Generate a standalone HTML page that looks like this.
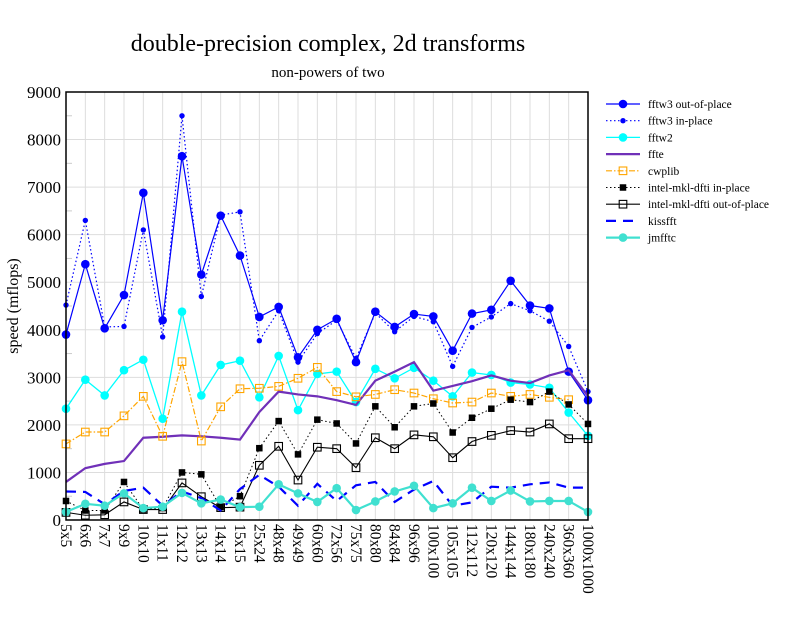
<!DOCTYPE html>
<html><head><meta charset="utf-8"><style>
body{margin:0;background:#fff;font-family:"Liberation Serif",serif}
</style></head><body>
<svg id="c" width="792" height="612" viewBox="0 0 792 612" xmlns="http://www.w3.org/2000/svg" font-family="Liberation Serif, serif">
<text x="328" y="51" font-size="24" text-anchor="middle">double-precision complex, 2d transforms</text>
<text x="328" y="77" font-size="15" text-anchor="middle">non-powers of two</text>
<text transform="translate(18,306) rotate(-90)" font-size="16" text-anchor="middle">speed (mflops)</text>
<g id="grid"></g><g id="series"></g><g id="axes"></g><g id="legend"></g>
</svg>
<script>
const categories=["5x5","6x6","7x7","9x9","10x10","11x11","12x12","13x13","14x14","15x15","25x24","48x48","49x49","60x60","72x56","75x75","80x80","84x84","96x96","100x100","105x105","112x112","120x120","144x144","180x180","240x240","360x360","1000x1000"];
const yTicks=[0,1000,2000,3000,4000,5000,6000,7000,8000,9000];
const fftw3Out=[3900,5380,4030,4730,6880,4200,7650,5160,6400,5560,4270,4480,3420,4000,4230,3320,4380,4060,4330,4280,3560,4340,4420,5030,4510,4450,3120,2520];
const fftw3In=[4520,6300,4060,4070,6100,3850,8500,4700,6410,6480,3770,4400,3320,3920,4200,3400,4350,3960,4280,4170,3230,4050,4270,4550,4400,4180,3650,2700];
const fftw2=[2340,2950,2620,3150,3370,2130,4380,2620,3260,3350,2580,3450,2310,3070,3120,2480,3180,2980,3200,2930,2600,3100,3050,2890,2850,2780,2260,1770];
const ffte=[800,1090,1180,1240,1730,1750,1780,1760,1730,1690,2270,2700,2640,2600,2520,2420,2930,3120,3320,2720,2820,2920,3040,2930,2880,3040,3150,2600];
const cwplib=[1600,1850,1850,2190,2600,1760,3330,1660,2380,2760,2770,2810,2980,3210,2700,2590,2640,2740,2670,2550,2460,2480,2670,2600,2640,2580,2530,null];
const mklIn=[400,200,200,800,220,250,1000,960,270,500,1510,2080,1380,2110,2030,1610,2390,1950,2390,2450,1840,2150,2340,2530,2480,2700,2430,2020];
const mklOut=[160,100,110,380,220,220,780,490,260,270,1150,1550,840,1530,1500,1100,1730,1500,1790,1750,1310,1650,1780,1880,1850,2020,1710,1710];
const kissfft=[600,590,330,610,680,300,600,460,200,650,950,700,300,760,400,730,800,380,640,820,300,370,700,680,750,790,680,680];
const jmfftc=[170,340,300,560,250,280,570,350,430,270,280,750,560,380,670,210,390,600,720,250,350,680,400,620,390,400,400,170];

const NS="http://www.w3.org/2000/svg";
const X0=66,X1=588,Y0=520,Y1=92,YMAX=9000;
const xs=i=>X0+i*(X1-X0)/(categories.length-1);
const ys=v=>Y0-v*(Y0-Y1)/YMAX;
function mk(tag,attrs,parent){const e=document.createElementNS(NS,tag);for(const k in attrs)e.setAttribute(k,attrs[k]);parent.appendChild(e);return e;}
const grid=document.getElementById('grid'),axes=document.getElementById('axes'),ser=document.getElementById('series'),leg=document.getElementById('legend');
categories.forEach((c,i)=>{
  const l=mk('line',{x1:xs(i),x2:xs(i),y1:Y1,y2:Y0,stroke:'#ddd','stroke-width':1},grid);
  
  
  const t=mk('text',{transform:`translate(${xs(i)-5},524) rotate(90)`,'font-size':15.5},axes);
  t.textContent=c;
  
  
});
yTicks.forEach(v=>{
  const l=mk('line',{x1:X0,x2:X1,y1:ys(v),y2:ys(v),stroke:'#ddd','stroke-width':1},grid);
  
  
  const t=mk('text',{x:61,y:ys(v)+6,'font-size':17,'text-anchor':'end'},axes);
  t.textContent=v;
  
  
  if(v<YMAX){
    const m=mk('line',{x1:X0,x2:X0+6,y1:ys(v+500),y2:ys(v+500),stroke:'#ccc'},grid);
    
    
  }
});
const frame=mk('rect',{x:X0,y:Y1,width:X1-X0,height:Y0-Y1,fill:'none',stroke:'#000','stroke-width':1.5},axes);



const seriesDefs=[
 {name:'fftw3 out-of-place',data:fftw3Out,color:'#0000ff',w:1.2,dash:'',mark:'circle',r:4.3,fill:'#0000ff'},
 {name:'fftw3 in-place',data:fftw3In,color:'#0000ff',w:1.2,dash:'1.5,2.5',mark:'circle',r:2.7,fill:'#0000ff'},
 {name:'fftw2',data:fftw2,color:'#00ffff',w:1.3,dash:'',mark:'circle',r:4.3,fill:'#00ffff'},
 {name:'ffte',data:ffte,color:'#7030b8',w:2.2,dash:'',mark:'none'},
 {name:'cwplib',data:cwplib,color:'#ffa500',w:1.2,dash:'6,2,1.5,2',mark:'square',r:3.8,fill:'none'},
 {name:'intel-mkl-dfti in-place',data:mklIn,color:'#000',w:1,dash:'1.5,2.5',mark:'square',r:2.7,fill:'#000'},
 {name:'intel-mkl-dfti out-of-place',data:mklOut,color:'#000',w:1.1,dash:'',mark:'square',r:3.8,fill:'none'},
 {name:'kissfft',data:kissfft,color:'#0000ff',w:2.2,dash:'10,7',mark:'none'},
 {name:'jmfftc',data:jmfftc,color:'#40e0d0',w:2.2,dash:'',mark:'circle',r:4.3,fill:'#40e0d0'}
];
function marker(s,x,y,parent){
  let m;
  if(s.mark==='circle') m=mk('circle',{cx:x,cy:y,r:s.r,fill:s.fill},parent);
  else if(s.mark==='square') m=mk('rect',{x:x-s.r,y:y-s.r,width:2*s.r,height:2*s.r,fill:s.fill,stroke:s.color,'stroke-width':1.1},parent);
  return m;
}
seriesDefs.forEach((s,k)=>{
  const g=mk('g',{},ser);
  
  
  const pts=[];s.data.forEach((v,i)=>{if(v!=null)pts.push([xs(i),ys(v)]);});
  const p=mk('polyline',{points:pts.map(p=>p.join(',')).join(' '),fill:'none',stroke:s.color,'stroke-width':s.w,'stroke-dasharray':s.dash},g);
  
  
  pts.forEach(([x,y])=>{const m=marker(s,x,y,g);if(m){
    
    }});
  const ly=104+k*16.7;
  const lg=mk('g',{},leg);
  
  
  mk('line',{x1:606,x2:640,y1:ly,y2:ly,stroke:s.color,'stroke-width':s.w,'stroke-dasharray':s.dash},lg);
  marker(s,623,ly,lg);
  const t=mk('text',{x:648,y:ly+4,'font-size':11.5},lg);
  t.textContent=s.name;
});
</script>
</body></html>
